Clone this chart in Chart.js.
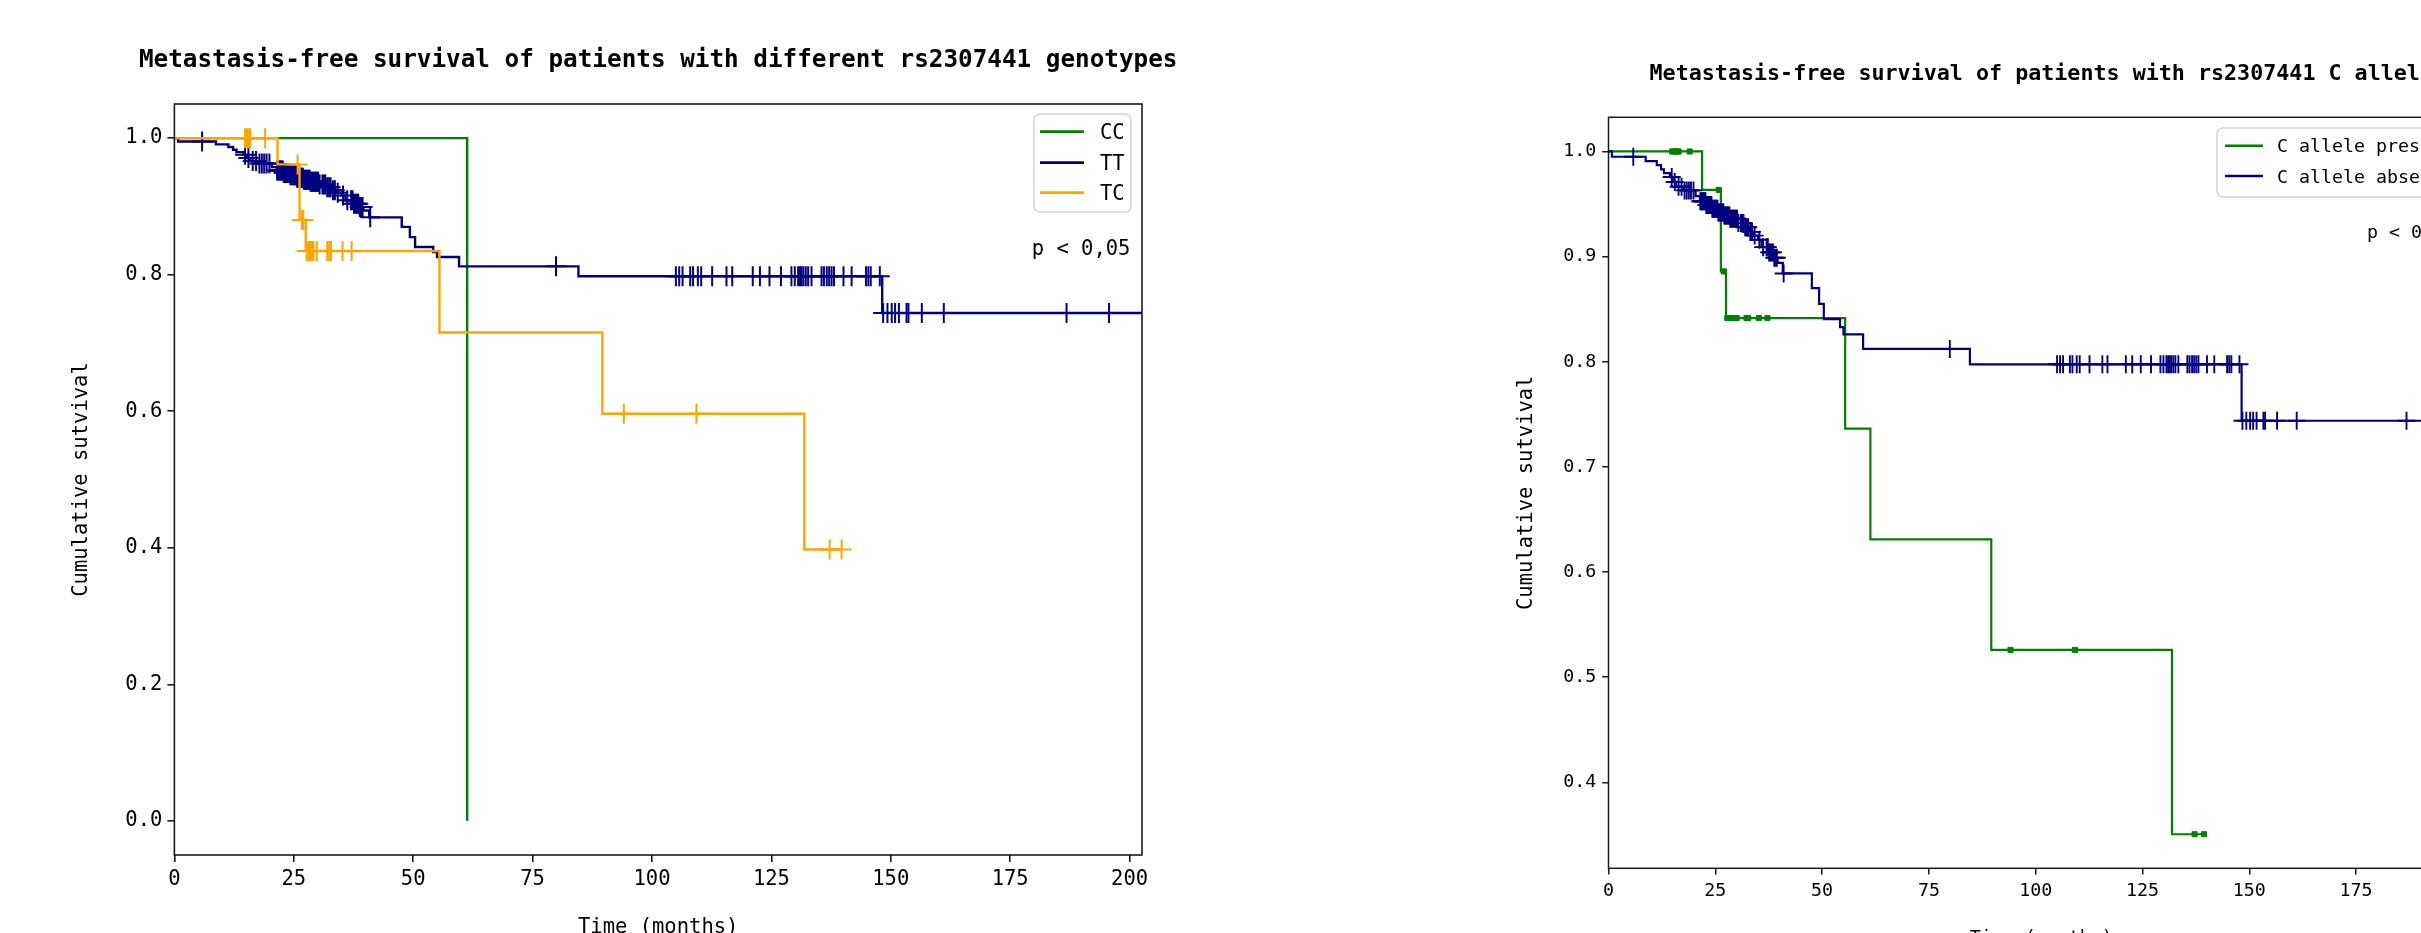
<!DOCTYPE html>
<html><head><meta charset="utf-8">
<script src="https://cdn.jsdelivr.net/npm/chart.js@4.4.1/dist/chart.umd.min.js"></script>
<style>
html,body{margin:0;padding:0;background:#fff;overflow:hidden;}
#wrap{position:relative;width:2421px;height:933px;overflow:hidden;background:#fff;}
canvas{position:absolute;top:0;}
#c1{left:0;}
#c2{left:1210px;}
</style></head><body>
<div id="wrap">
<canvas id="c1" width="1210" height="933" style="width:1210px;height:933px"></canvas>
<canvas id="c2" width="1400" height="933" style="width:1400px;height:933px"></canvas>
</div>
<script>
// ---------- tick labels ----------
const xTicks = [0, 25, 50, 75, 100, 125, 150, 175, 200];
const yTicksLeft = [0.0, 0.2, 0.4, 0.6, 0.8, 1.0];
const yTicksRight = [0.4, 0.5, 0.6, 0.7, 0.8, 0.9, 1.0];

// ---------- texts ----------
const titleLeft = 'Metastasis-free survival of patients with different rs2307441 genotypes';
const titleRight = 'Metastasis-free survival of patients with rs2307441 C allele';
const yLabel = 'Cumulative sutvival';
const xLabel = 'Time (months)';
const pText = 'p < 0,05';
const groupsLeft = ['CC', 'TT', 'TC'];
const groupsRight = ['C allele presence', 'C allele absence'];

// ---------- data: Kaplan-Meier steps (time, survival after step) ----------
const ccTimes = [0, 61.3];
const ccSurv = [1.0, 0.0];
const ccCensor = [];

const ttTimes = [0, 0.8, 8.7, 11.3, 12.3, 13.0, 14.4, 15.1, 15.8, 17.5, 20.4, 21.4, 22.8, 24.2, 25.6, 27.0, 28.5, 30.3, 31.8, 32.9, 34.0, 35.0, 35.8, 37.5, 38.6, 39.6, 40.8, 47.6, 49.3, 50.4, 54.2, 55.0, 59.6, 84.6, 148.2, 202.6];
const ttSurv = [1.0, 0.995, 0.9908, 0.987, 0.983, 0.9795, 0.9757, 0.971, 0.9665, 0.963, 0.9576, 0.9527, 0.949, 0.9455, 0.942, 0.939, 0.936, 0.932, 0.928, 0.9235, 0.92, 0.916, 0.909, 0.904, 0.899, 0.894, 0.884, 0.870, 0.855, 0.8405, 0.833, 0.826, 0.8122, 0.7976, 0.7439, 0.7439];
const ttCensor = [5.8, 14.8, 15.5, 16.4, 17.1, 17.8, 18.3, 18.8, 19.3, 19.9,
  21.5, 21.7, 21.9, 22.1, 22.3, 22.5, 22.7, 22.9, 23.1, 23.3, 23.5, 23.7, 23.9, 24.1, 24.3, 24.5, 24.7, 24.9, 25.1, 25.3, 25.5, 25.7, 25.9,
  26.1, 26.3, 26.5, 26.7, 26.9, 27.1, 27.3, 27.5, 27.7, 27.9, 28.1, 28.3, 28.5, 28.7, 28.9, 29.1, 29.3, 29.5, 29.7, 29.9, 30.1, 30.4,
  31.0, 31.3, 31.6, 32.0, 32.4, 32.7, 33.2, 33.6, 34.2, 35.3, 36.2,
  37.0, 37.3, 37.6, 37.9, 38.2, 38.5, 38.8, 39.1, 39.4, 41.0,
  79.9, 105.0, 105.7, 106.4, 108.0, 108.6, 109.6, 110.3, 112.6, 115.6, 116.8, 121.1, 122.6, 124.6, 127.0, 129.2, 129.9, 130.6, 131.0, 131.3, 131.7, 132.2, 132.7, 133.4, 135.5, 136.0, 136.6, 137.1, 137.6, 138.1, 140.1, 141.8, 144.8, 145.3, 145.8, 147.7,
  148.4, 149.3, 150.2, 150.9, 151.7, 153.3, 153.7, 156.5, 161.1, 186.8, 195.7];

const tcTimes = [0, 21.6, 26.2, 27.5, 55.5, 89.6, 131.9, 139.7];
const tcSurv = [1.0, 0.9615, 0.880, 0.8346, 0.7154, 0.5962, 0.3974, 0.3974];
const tcCensor = [14.8, 15.2, 15.6, 15.9, 19.0, 25.8, 26.7, 27.0, 27.7, 28.1, 28.4, 28.8, 29.1, 29.8, 32.0, 32.4, 32.8, 35.2, 37.1, 94.1, 109.3, 137.2, 139.7];

const presTimes = [0, 21.9, 26.3, 27.5, 55.4, 61.3, 89.6, 131.9, 139.5];
const presSurv = [1.0, 0.9635, 0.886, 0.8416, 0.7364, 0.6312, 0.5260, 0.3507, 0.3507];
const presCensor = [14.9, 15.3, 15.7, 16.1, 16.4, 19.0, 25.8, 27.0, 27.8, 28.2, 28.6, 29.0, 29.5, 30.0, 32.3, 32.7, 35.2, 37.2, 94.1, 109.2, 137.2, 139.4];

const absTimes = ttTimes;
const absSurv = ttSurv;
const absCensor = ttCensor;

// ---------- helpers ----------
const FONT = "'DejaVu Sans Mono', monospace";
const GREEN = '#008000', NAVY = '#000080', ORANGE = '#FFA500';

function survAt(times, surv, t) {
  let s = surv[0];
  for (let i = 0; i < times.length; i++) if (times[i] <= t) s = surv[i];
  return s;
}
function curve(times, surv) { return times.map((t, i) => ({x: t, y: surv[i]})); }
function marks(times, surv, cens) { return cens.map(t => ({x: t, y: survAt(times, surv, t)})); }

function lineDs(label, times, surv, color, lw, order) {
  return {label, data: curve(times, surv), showLine: true, stepped: true, borderColor: color,
    backgroundColor: color, borderWidth: lw, pointRadius: 0, pointHoverRadius: 0, order, fill: false,
    borderJoinStyle: 'miter', borderCapStyle: 'butt'};
}
function censDs(label, times, surv, cens, color, style, r, bw, order) {
  return {label: label + ' censored', data: marks(times, surv, cens), showLine: false, pointStyle: style,
    pointRadius: r, pointHoverRadius: r, pointBorderWidth: bw, pointBorderColor: color,
    pointBackgroundColor: color, order};
}

const specs = {};

const textPlugin = {
  id: 'kmTexts',
  afterDatasetsDraw(chart) {
    const s = specs[chart.canvas.id]; if (!s) return;
    const a = chart.chartArea, ctx = chart.ctx;
    ctx.save();
    ctx.strokeStyle = '#1a1a1a'; ctx.lineWidth = s.spineW;
    ctx.strokeRect(a.left, a.top, a.right - a.left, a.bottom - a.top);
    ctx.restore();
  },
  afterDraw(chart) {
    const s = specs[chart.canvas.id]; if (!s) return;
    const a = chart.chartArea, ctx = chart.ctx;
    const cx = (a.left + a.right) / 2;
    ctx.save();
    ctx.fillStyle = '#000';
    ctx.font = 'bold ' + s.titleSize + 'px ' + FONT;
    ctx.textAlign = 'center'; ctx.textBaseline = 'alphabetic';
    ctx.fillText(s.title, cx, s.titleBase);
    ctx.font = s.labelSizeX + 'px ' + FONT;
    ctx.fillText(xLabel, cx, s.xLabelBase);
    ctx.save();
    ctx.translate(s.yLabelX, (a.top + a.bottom) / 2);
    ctx.rotate(-Math.PI / 2);
    ctx.font = s.labelSizeY + 'px ' + FONT;
    ctx.textBaseline = 'middle';
    ctx.fillText(yLabel, 0, 0);
    ctx.restore();
    ctx.font = s.legSize + 'px ' + FONT;
    ctx.textAlign = 'left'; ctx.textBaseline = 'alphabetic';
    ctx.fillText(pText, s.pX, s.pBase);
    const L = s.legend;
    ctx.beginPath();
    if (ctx.roundRect) ctx.roundRect(L.x, L.y, L.w, L.h, L.r); else ctx.rect(L.x, L.y, L.w, L.h);
    ctx.fillStyle = 'rgba(255,255,255,0.8)'; ctx.fill();
    ctx.strokeStyle = '#d4d4d4'; ctx.lineWidth = s.spineW; ctx.stroke();
    L.items.forEach((it, i) => {
      const y = L.rows[i];
      ctx.strokeStyle = it.color; ctx.lineWidth = s.lineW + 0.4;
      ctx.beginPath(); ctx.moveTo(L.hx0, y); ctx.lineTo(L.hx1, y); ctx.stroke();
      ctx.fillStyle = '#000';
      ctx.fillText(it.label, L.tx, y + 0.365 * s.legSize);
    });
    ctx.restore();
  }
};

function makeChart(id, s, datasets) {
  specs[id] = s;
  const cw = document.getElementById(id).width, ch = document.getElementById(id).height;
  const yW = 100, xH = 50;
  const tickFont = {family: FONT, size: s.tickSize};
  return new Chart(document.getElementById(id), {
    type: 'scatter',
    data: {datasets},
    options: {
      responsive: false, animation: false, devicePixelRatio: 1,
      layout: {padding: {left: s.area.left - yW, top: s.area.top, right: cw - s.area.right, bottom: ch - s.area.bottom - xH}},
      plugins: {legend: {display: false}, tooltip: {enabled: false}, title: {display: false}},
      events: [],
      scales: {
        x: {type: 'linear', min: 0, max: 202.6, bounds: 'data',
          afterBuildTicks: sc => { sc.ticks = xTicks.map(v => ({value: v})); },
          afterFit: sc => { sc.height = xH; },
          ticks: {font: tickFont, color: '#000', padding: s.xPad, maxRotation: 0, autoSkip: false, callback: v => String(v)},
          grid: {display: true, drawOnChartArea: false, drawTicks: true, tickLength: s.tickLen, color: '#1a1a1a', lineWidth: s.spineW},
          border: {display: false}},
        y: {type: 'linear', min: s.yMin, max: s.yMax, bounds: 'data',
          afterBuildTicks: sc => { sc.ticks = s.yTicks.map(v => ({value: v})); },
          afterFit: sc => { sc.width = yW; },
          ticks: {font: tickFont, color: '#000', padding: s.yPad, autoSkip: false, callback: v => Number(v).toFixed(1)},
          grid: {display: true, drawOnChartArea: false, drawTicks: true, tickLength: s.tickLen, color: '#1a1a1a', lineWidth: s.spineW},
          border: {display: false}}
      }
    },
    plugins: [textPlugin]
  });
}

// ---------- left chart ----------
const lwL = 2.4;
makeChart('c1', {
  area: {left: 174.4, top: 104, right: 1142, bottom: 855},
  yMin: -0.05, yMax: 1.05, yTicks: yTicksLeft,
  tickSize: 20.5, tickLen: 7, xPad: 5, yPad: 5, spineW: 1.6, lineW: lwL,
  title: titleLeft, titleSize: 24.3, titleBase: 66.7,
  labelSizeX: 20.5, labelSizeY: 20.5, xLabelBase: 932.7, yLabelX: 82,
  legSize: 20.5, pX: 1031.7, pBase: 255,
  legend: {x: 1034, y: 114, w: 97, h: 98, r: 6, hx0: 1040, hx1: 1084, tx: 1100, rows: [131.7, 162.7, 192.7],
    items: [{label: groupsLeft[0], color: GREEN}, {label: groupsLeft[1], color: NAVY}, {label: groupsLeft[2], color: ORANGE}]}
}, [
  censDs(groupsLeft[2], tcTimes, tcSurv, tcCensor, ORANGE, 'cross', 10, 2, 0),
  lineDs(groupsLeft[2], tcTimes, tcSurv, ORANGE, lwL, 1),
  censDs(groupsLeft[1], ttTimes, ttSurv, ttCensor, NAVY, 'cross', 10, 2, 2),
  lineDs(groupsLeft[1], ttTimes, ttSurv, NAVY, lwL, 3),
  censDs(groupsLeft[0], ccTimes, ccSurv, ccCensor, GREEN, 'cross', 10, 2, 4),
  lineDs(groupsLeft[0], ccTimes, ccSurv, GREEN, lwL, 5)
]);

// ---------- right chart ----------
const OX = 1210;
const lwR = 2.2;
makeChart('c2', {
  area: {left: 1608.5 - OX, top: 117.3, right: 2474 - OX, bottom: 868.3},
  yMin: 0.3183, yMax: 1.0325, yTicks: yTicksRight,
  tickSize: 18.3, tickLen: 6.3, xPad: 6, yPad: 6, spineW: 1.5, lineW: lwR,
  title: titleRight, titleSize: 21.7, titleBase: 80,
  labelSizeX: 18.3, labelSizeY: 20.5, xLabelBase: 942.7, yLabelX: 1527 - OX,
  legSize: 18.3, pX: 2367 - OX, pBase: 238,
  legend: {x: 2217 - OX, y: 128, w: 255, h: 69, r: 6, hx0: 2225 - OX, hx1: 2263 - OX, tx: 2277 - OX, rows: [145.7, 176],
    items: [{label: groupsRight[0], color: GREEN}, {label: groupsRight[1], color: NAVY}]}
}, [
  censDs(groupsRight[1], absTimes, absSurv, absCensor, NAVY, 'cross', 9, 1.9, 0),
  lineDs(groupsRight[1], absTimes, absSurv, NAVY, lwR, 1),
  censDs(groupsRight[0], presTimes, presSurv, presCensor, GREEN, 'rect', 3.6, 1, 2),
  lineDs(groupsRight[0], presTimes, presSurv, GREEN, lwR, 3)
]);
</script>
</body></html>
